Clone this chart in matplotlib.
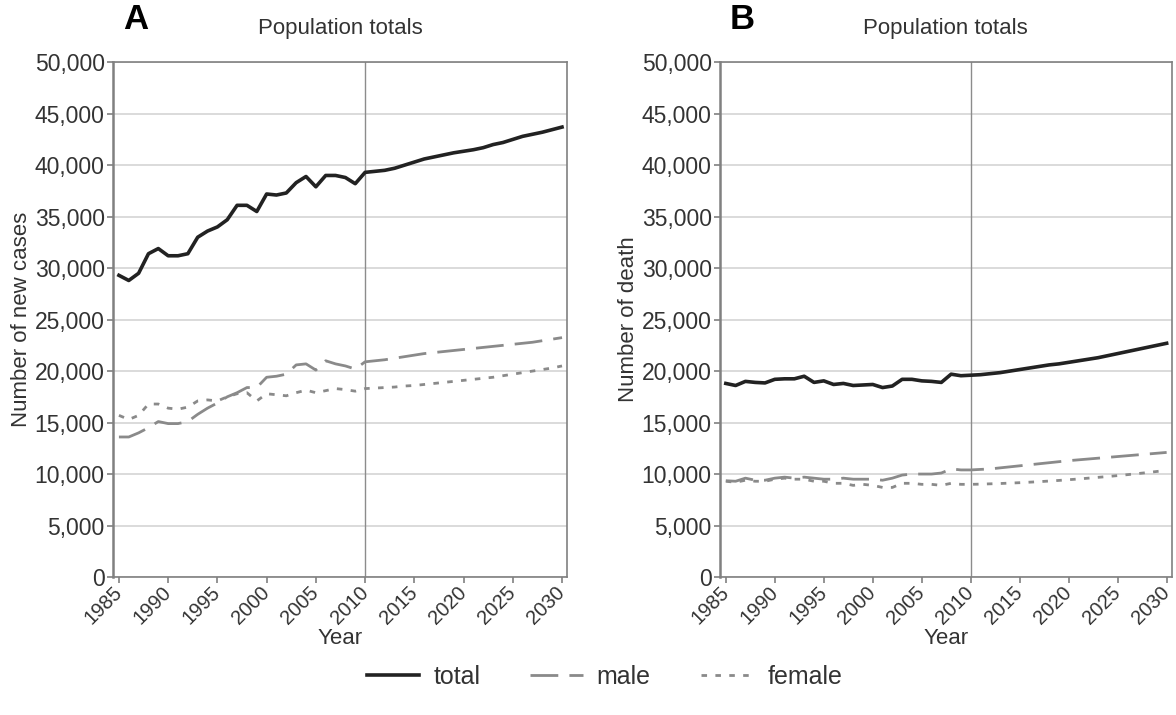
import numpy as np
import matplotlib.pyplot as plt
import matplotlib.transforms as mtransforms
from matplotlib.lines import Line2D

plt.rcParams['font.family'] = ['Liberation Sans', 'DejaVu Sans']

years = np.arange(1985, 2031)

# Panel A: new cases (observed 1985-2010, projected 2011-2030)
cases_total = [29300, 28800, 29500, 31400, 31900, 31200, 31200, 31400, 33000, 33600,
               34000, 34700, 36100, 36100, 35500, 37200, 37100, 37300, 38300, 38900,
               37900, 39000, 39000, 38800, 38200, 39300,
               39400, 39500, 39700, 40000, 40300, 40600, 40800, 41000, 41200, 41350,
               41500, 41700, 42000, 42200, 42500, 42800, 43000, 43200, 43450, 43700]
cases_male = [13600, 13600, 14000, 14500, 15100, 14900, 14900, 15100, 15800, 16400,
              16900, 17500, 17900, 18400, 18400, 19400, 19500, 19700, 20600, 20700,
              20100, 21000, 20700, 20500, 20200, 20900,
              21000, 21100, 21250, 21400, 21550, 21700, 21800, 21900, 22000, 22100,
              22200, 22300, 22400, 22500, 22600, 22700, 22800, 22950, 23100, 23250]
cases_female = [15700, 15300, 15700, 16800, 16800, 16400, 16300, 16500, 17100, 17200,
                17100, 17500, 17800, 17900, 17100, 17800, 17700, 17600, 17900, 18150,
                17900, 18100, 18300, 18200, 18050, 18300,
                18350, 18400, 18450, 18550, 18600, 18700, 18800, 18900, 19000, 19100,
                19200, 19300, 19400, 19550, 19700, 19850, 20000, 20150, 20300, 20500]

# Panel B: deaths
death_total = [18800, 18600, 19000, 18900, 18850, 19200, 19250, 19250, 19500, 18900,
               19050, 18700, 18800, 18600, 18650, 18700, 18400, 18550, 19200, 19200,
               19050, 19000, 18900, 19700, 19550, 19600,
               19650, 19750, 19850, 20000, 20150, 20300, 20450, 20600, 20700, 20850,
               21000, 21150, 21300, 21500, 21700, 21900, 22100, 22300, 22500, 22700]
death_male = [9350, 9300, 9600, 9400, 9400, 9600, 9700, 9600, 9700, 9600,
              9500, 9500, 9600, 9500, 9500, 9500, 9400, 9600, 9900, 10000,
              10000, 10000, 10100, 10500, 10400, 10400,
              10450, 10500, 10600, 10700, 10800, 10900, 11000, 11100, 11200, 11300,
              11380, 11460, 11540, 11620, 11700, 11780, 11860, 11940, 12020, 12100]
death_female = [9300, 9200, 9400, 9300, 9300, 9500, 9600, 9500, 9500, 9300,
                9300, 9100, 9100, 8900, 9000, 8900, 8700, 8700, 9100, 9100,
                9000, 9000, 8900, 9100, 9000, 9000,
                9020, 9050, 9080, 9120, 9160, 9210, 9260, 9320, 9380, 9450,
                9520, 9600, 9680, 9760, 9850, 9940, 10040, 10140, 10250, 10350]

xticks = np.arange(1985, 2031, 5)
yticks = np.arange(0, 50001, 5000)

fig = plt.figure(figsize=(11.76, 7.15), dpi=100)
axA = fig.add_axes([0.0961, 0.193, 0.386, 0.720])
axB = fig.add_axes([0.6122, 0.193, 0.384, 0.720])

panels = [
    (axA, cases_total, cases_male, cases_female, 'Number of new cases', 'A'),
    (axB, death_total, death_male, death_female, 'Number of death', 'B'),
]

# nudge rotated year labels a little to the right, like the original
shift = mtransforms.ScaledTranslation(4 / 72, 0, fig.dpi_scale_trans)

for ax, tot, male, fem, ylab, letter in panels:
    ax.axvline(2010, color='#8c8c8c', lw=1.0, zorder=1)
    ax.plot(years, tot, color='#222222', lw=2.6, zorder=3, solid_joinstyle='round')
    ax.plot(years, male, color='#8a8a8a', lw=2.0, dashes=(10, 4), zorder=3)
    ax.plot(years, fem, color='#8a8a8a', lw=2.0, dashes=(2, 3), zorder=3)

    ax.set_xlim(1984.4, 2030.5)
    ax.set_ylim(0, 50000)
    ax.set_xticks(xticks)
    ax.set_yticks(yticks)
    ax.set_yticklabels([f'{v:,}' for v in yticks])
    ax.set_xticklabels([str(v) for v in xticks], rotation=45, ha='right',
                       va='center', rotation_mode='anchor')
    for lab in ax.get_xticklabels():
        lab.set_transform(lab.get_transform() + shift)
    ax.grid(axis='y', color='#d4d4d4', lw=1.2, zorder=0)
    ax.set_axisbelow(True)
    for s in ax.spines.values():
        s.set_color('#808080')
        s.set_linewidth(1.2)
    ax.spines['left'].set_linewidth(1.8)
    ax.tick_params(axis='both', colors='#808080', labelcolor='#333333',
                   length=4, width=1.2, pad=2)
    ax.tick_params(axis='y', labelsize=16.5)
    ax.tick_params(axis='x', labelsize=14.5, pad=5)
    ax.set_xlabel('Year', fontsize=16, color='#333333', labelpad=0)
    ax.set_ylabel(ylab, fontsize=16, color='#333333', labelpad=2)
    ax.set_title('Population totals', fontsize=16, color='#333333', pad=20)
    ax.text(0.05, 1.05, letter, transform=ax.transAxes, fontsize=25,
            fontweight='bold', ha='center', va='bottom')

handles = [
    Line2D([], [], color='#222222', lw=2.6),
    Line2D([], [], color='#8a8a8a', lw=2.0, dashes=(10, 4)),
    Line2D([], [], color='#8a8a8a', lw=2.0, dashes=(2, 3)),
]
fig.legend(handles, ['total', 'male', 'female'], loc='center',
           bbox_to_anchor=(0.514, 0.053), ncol=3, frameon=False, fontsize=18,
           handlelength=2.1, handletextpad=0.56, columnspacing=2.0,
           labelcolor='#333333')

fig.savefig('out.png', dpi=100)
